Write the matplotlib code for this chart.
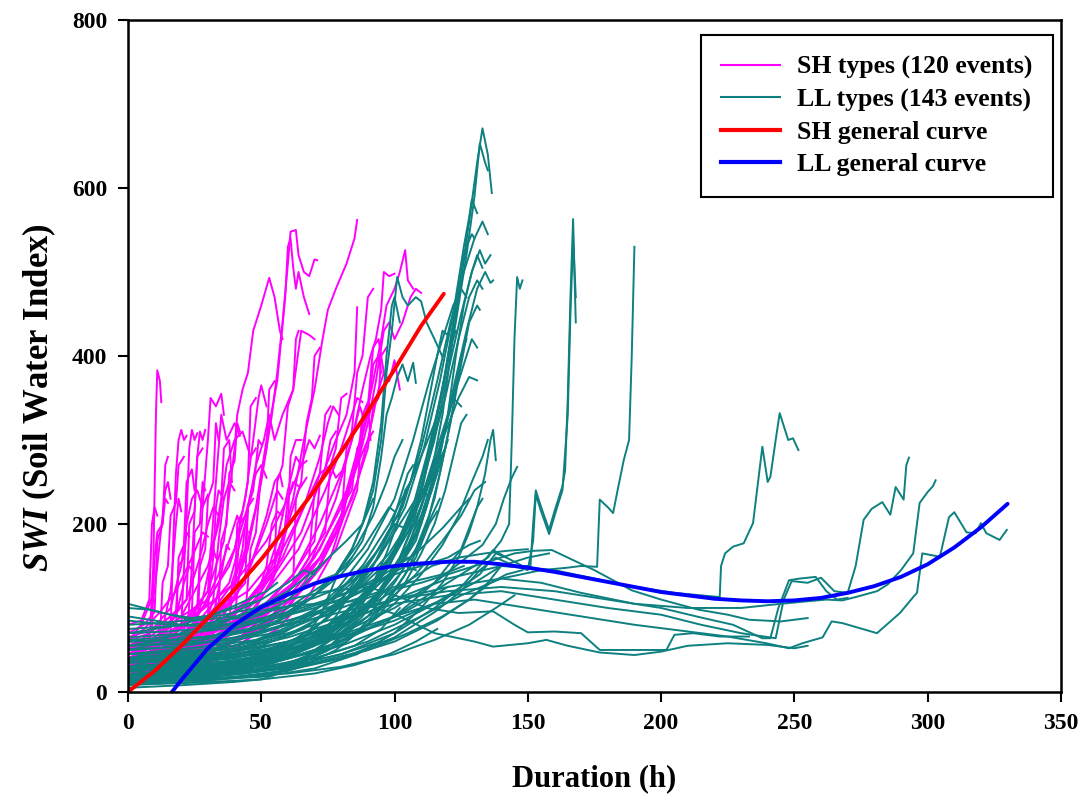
import matplotlib
matplotlib.use("Agg")
import matplotlib.pyplot as plt
from matplotlib.lines import Line2D

plt.rcParams['font.family'] = ['Liberation Serif', 'DejaVu Serif']
plt.rcParams['font.weight'] = 'bold'
plt.rcParams['mathtext.fontset'] = 'custom'
plt.rcParams['mathtext.it'] = 'Liberation Serif:bold:italic'
plt.rcParams['mathtext.rm'] = 'Liberation Serif:bold'

# SH type events: (duration h, SWI) vertices
sh_events = [
    [(0, 35), (4, 42), (8, 55), (9.5, 150), (10.5, 330), (11, 383), (12, 370), (12.5, 345)],
    [(0, 15), (6, 30), (12, 45), (16, 70), (17, 180), (18, 260), (19, 300), (20, 312), (21, 300), (22, 305)],
    [(0, 20), (8, 35), (14, 55), (20, 80), (22, 210), (23, 290), (24, 312), (25, 300), (26, 308)],
    [(0, 10), (10, 25), (18, 40), (22, 60), (24, 150), (26, 280), (27, 310), (28, 300), (29, 312)],
    [(0, 25), (10, 40), (20, 70), (26, 100), (28, 220), (30, 300), (31, 350), (33, 340), (35, 355), (36, 330)],
    [(0, 30), (12, 50), (22, 85), (30, 120), (33, 250), (35, 330), (37, 300), (40, 320), (42, 305)],
    [(0, 40), (10, 55), (20, 80), (30, 120), (36, 180), (40, 290), (41, 330), (43, 360), (45, 380),
     (47, 430), (50, 460), (53, 493), (55, 470), (57, 430), (58, 420)],
    [(0, 15), (15, 40), (30, 80), (40, 120), (45, 170), (50, 250), (54, 330), (56, 380), (58, 440),
     (60, 510), (61, 548), (63, 550), (64, 520), (66, 500), (68, 495), (70, 515), (71, 514)],
    [(0, 20), (15, 45), (30, 90), (42, 140), (48, 220), (52, 300), (56, 370), (59, 470), (60, 530),
     (61, 540), (62, 505), (63, 480), (64, 500), (66, 470), (68, 450)],
    [(0, 30), (14, 50), (28, 90), (38, 130), (44, 200), (48, 270), (51, 300), (53, 330), (55, 300),
     (58, 330), (62, 360), (65, 430), (68, 425), (70, 420)],
    [(0, 45), (10, 60), (20, 90), (30, 150), (34, 200), (37, 270), (40, 300), (43, 310), (46, 280), (48, 290)],
    [(0, 50), (8, 70), (16, 100), (20, 150), (22, 200), (24, 230), (26, 240), (28, 220), (30, 235)],
    [(0, 10), (10, 20), (20, 40), (28, 70), (32, 110), (34, 180), (36, 230), (38, 250), (40, 240)],
    [(0, 60), (5, 80), (10, 120), (12, 180), (14, 240), (15, 250), (16, 230)],
    [(0, 30), (6, 40), (12, 60), (16, 120), (18, 200), (19, 230), (20, 215)],
    [(0, 25), (12, 45), (24, 80), (34, 130), (40, 170), (44, 230), (47, 300), (49, 350), (50, 365), (52, 340)],
    [(0, 20), (15, 35), (30, 70), (45, 110), (55, 150), (62, 230), (66, 300), (70, 360), (73, 420),
     (75, 455), (78, 480), (82, 510), (85, 540), (86, 562)],
    [(0, 15), (14, 30), (28, 60), (42, 100), (55, 140), (65, 190), (72, 250), (78, 300), (82, 330),
     (85, 380), (86, 458)],
    [(0, 35), (12, 55), (25, 90), (40, 130), (52, 180), (60, 230), (65, 270), (68, 300), (70, 290), (72, 305)],
    [(0, 50), (10, 65), (20, 90), (30, 110), (38, 150), (44, 210), (48, 260), (50, 270), (52, 255)],
    [(0, 40), (15, 55), (30, 90), (45, 120), (58, 170), (66, 220), (72, 260), (76, 270), (78, 255), (80, 262)],
    [(0, 10), (20, 30), (40, 60), (55, 100), (68, 150), (78, 230), (84, 300), (88, 360), (91, 400),
     (93, 420), (95, 455), (96, 500), (98, 495), (100, 498)],
    [(0, 20), (20, 40), (40, 75), (60, 120), (72, 170), (82, 240), (88, 310), (92, 370), (95, 420),
     (97, 460), (100, 480), (102, 500), (104, 526), (105, 490), (107, 480)],
    [(0, 30), (25, 50), (45, 85), (60, 120), (72, 160), (80, 210), (86, 270), (90, 320), (93, 370),
     (96, 430), (98, 440), (100, 420), (103, 440), (106, 470), (108, 480), (110, 475)],
    [(0, 15), (18, 35), (36, 70), (54, 110), (70, 150), (80, 200), (86, 250), (90, 300), (94, 360),
     (96, 380), (98, 370), (100, 395), (102, 360)],
    [(0, 25), (15, 40), (30, 60), (40, 80), (50, 120), (56, 180), (60, 240), (63, 280), (65, 270), (67, 275)],
    [(0, 55), (8, 65), (16, 85), (22, 110), (27, 160), (30, 200), (32, 220), (34, 210)],
    [(0, 35), (10, 45), (20, 60), (25, 80), (28, 110), (30, 140), (32, 170), (33, 160)],
    [(0, 45), (6, 55), (12, 70), (18, 90), (21, 130), (23, 150), (24, 145)],
    [(0, 20), (10, 30), (20, 45), (30, 60), (36, 90), (40, 130), (43, 170), (44, 200), (45, 190)],
    [(0, 30), (14, 45), (28, 70), (38, 100), (46, 150), (52, 200), (56, 240), (58, 230)],
    [(0, 40), (10, 55), (20, 75), (28, 100), (34, 140), (38, 180), (41, 210), (42, 200)],
    [(0, 10), (12, 20), (24, 40), (36, 70), (48, 110), (58, 160), (66, 220), (72, 280), (75, 320),
     (77, 340), (79, 330)],
    [(0, 25), (12, 38), (24, 55), (36, 80), (46, 110), (54, 150), (60, 200), (64, 240), (67, 255)],
    [(0, 60), (6, 75), (12, 95), (18, 120), (24, 160), (28, 190), (30, 185)],
    [(0, 15), (16, 30), (32, 55), (48, 90), (62, 140), (72, 200), (80, 260), (84, 300), (87, 340), (88, 330)],
    [(0, 35), (20, 50), (38, 80), (52, 120), (64, 170), (74, 240), (80, 290), (84, 330), (86, 350), (88, 345)],
    [(0, 20), (10, 28), (20, 38), (28, 55), (32, 90), (35, 140), (37, 175), (38, 170)],
    [(0, 50), (15, 62), (30, 80), (40, 110), (47, 160), (52, 210), (55, 250), (57, 260), (58, 245)],
    [(0, 30), (20, 45), (40, 70), (58, 110), (70, 160), (80, 220), (86, 270), (90, 300), (92, 310)],
    [(0, 45), (6, 50), (12, 62), (13, 130), (15, 150), (16, 210), (18, 225), (19, 270), (21, 280)],
    [(0, 30), (8, 38), (15, 50), (18, 70), (19, 160), (21, 175), (22, 250), (24, 265), (25, 240)],
    [(0, 55), (5, 60), (9, 75), (10, 160), (11, 190), (13, 200), (14, 270), (15, 280)],
    [(0, 20), (10, 30), (20, 45), (26, 60), (27, 150), (29, 170), (30, 230), (32, 250), (33, 320), (34, 300)],
    [(0, 35), (12, 48), (22, 70), (30, 90), (31, 170), (33, 190), (35, 230), (36, 290), (38, 300), (39, 250)],
    [(0, 60), (8, 70), (16, 90), (22, 110), (23, 200), (25, 215), (26, 280), (28, 290)],
    [(0, 25), (14, 40), (26, 65), (34, 95), (35, 180), (37, 200), (38, 260), (40, 275), (41, 320), (42, 310)],
    [(0, 40), (16, 55), (30, 85), (40, 110), (41, 200), (43, 215), (45, 250), (46, 340), (48, 350)],
    [(0, 15), (16, 28), (32, 55), (44, 90), (46, 170), (48, 190), (50, 260), (52, 290), (53, 360), (55, 370)],
    [(0, 50), (12, 58), (24, 75), (36, 100), (44, 130), (45, 220), (47, 240), (49, 300), (50, 295)],
    [(0, 30), (20, 42), (36, 70), (48, 100), (55, 140), (56, 250), (58, 270), (60, 340), (62, 360),
     (63, 420), (64, 430)],
    [(0, 10), (20, 22), (40, 50), (54, 90), (62, 130), (63, 230), (65, 250), (67, 320), (69, 350),
     (70, 400), (72, 410)],
    [(0, 40), (18, 52), (34, 78), (46, 110), (56, 150), (60, 200), (61, 280), (63, 300), (65, 300)],
    [(0, 20), (22, 34), (42, 65), (58, 110), (68, 160), (70, 240), (72, 260), (74, 330), (76, 340)],
    [(0, 30), (24, 45), (46, 80), (62, 130), (74, 190), (76, 270), (78, 290), (80, 350), (82, 355)],
    [(0, 15), (22, 28), (44, 60), (60, 100), (72, 150), (80, 200), (82, 290), (84, 310), (86, 380),
     (88, 400), (90, 470), (92, 480)],
    [(0, 25), (25, 40), (48, 75), (65, 120), (78, 170), (86, 240), (88, 320), (90, 340), (92, 410),
     (94, 420), (96, 380)],
    [(0, 35), (24, 48), (46, 80), (62, 120), (75, 170), (84, 230), (90, 290), (92, 340), (94, 350),
     (95, 400), (97, 410)],
    [(0, 70), (6, 80), (10, 95), (11, 180), (13, 200), (14, 230), (15, 225)],
    [(0, 80), (5, 85), (8, 110), (9, 200), (10, 220), (11, 210)],
    [(0, 45), (10, 55), (18, 75), (24, 95), (25, 190), (27, 200), (28, 250), (29, 240)],
    [(0, 55), (12, 65), (22, 85), (30, 105), (32, 160), (33, 220), (34, 240), (36, 230)],
    [(0, 30), (16, 40), (30, 60), (40, 85), (42, 150), (44, 170), (45, 220), (47, 230)],
    [(0, 20), (14, 30), (28, 50), (38, 75), (39, 130), (41, 150), (42, 200), (44, 210)],
    [(0, 65), (10, 75), (18, 95), (19, 150), (21, 160), (22, 190), (23, 185)],
    [(0, 25), (20, 38), (40, 60), (55, 90), (66, 130), (74, 170), (80, 210), (84, 260), (86, 270),
     (88, 330), (90, 345), (91, 300)],
    [(0, 40), (18, 50), (36, 70), (50, 100), (62, 140), (70, 180), (72, 250), (74, 265), (76, 300), (78, 310)],
    [(0, 15), (20, 25), (40, 45), (56, 75), (68, 115), (76, 160), (80, 200), (82, 230), (84, 240),
     (86, 290), (88, 300)],
    [(0, 30), (22, 40), (42, 62), (58, 95), (70, 140), (78, 190), (82, 230), (86, 280), (90, 330),
     (92, 390), (94, 400), (95, 380)],
    [(0, 50), (16, 58), (32, 72), (46, 95), (54, 130), (58, 170), (60, 230), (62, 250), (64, 245)],
    [(0, 35), (14, 44), (28, 58), (40, 80), (48, 110), (52, 150), (54, 200), (56, 215), (58, 210)],
]

# LL type events
ll_events = [
    [(0, 20), (15, 25), (30, 30), (45, 35), (60, 45), (75, 70), (90, 120), (100, 170), (108, 230),
     (114, 300), (119, 380), (124, 470), (128, 560), (131, 630), (133, 671), (135, 640), (136.5, 594)],
    [(0, 15), (20, 20), (40, 28), (55, 35), (70, 55), (85, 90), (97, 150), (106, 210), (112, 280),
     (118, 360), (123, 440), (127, 520), (130, 590), (132, 653), (134, 630), (135, 621)],
    [(0, 30), (18, 35), (36, 40), (54, 50), (68, 70), (82, 110), (94, 160), (104, 220), (111, 290),
     (117, 370), (122, 450), (126, 530), (128, 565), (129, 586), (131, 570)],
    [(0, 25), (20, 30), (40, 35), (58, 45), (72, 65), (86, 100), (98, 150), (108, 220), (115, 300),
     (120, 380), (125, 450), (129, 500), (132, 526), (134, 510), (136, 520)],
    [(0, 10), (22, 15), (44, 22), (60, 30), (74, 50), (88, 90), (100, 140), (110, 200), (117, 280),
     (122, 360), (127, 430), (131, 480), (134, 500), (136, 487), (137, 490)],
    [(0, 35), (16, 40), (32, 45), (50, 55), (66, 75), (80, 110), (92, 160), (103, 220), (110, 290),
     (116, 370), (121, 440), (126, 500), (130, 540), (133, 560), (135, 545)],
    [(0, 20), (20, 22), (40, 28), (58, 38), (72, 60), (86, 100), (98, 150), (107, 210), (113, 280),
     (119, 350), (124, 420), (128, 470), (131, 490), (133, 480)],
    [(0, 40), (15, 45), (30, 50), (48, 60), (64, 80), (78, 120), (90, 170), (100, 230), (107, 300),
     (113, 370), (118, 420), (122, 460), (125, 480), (127, 470)],
    [(0, 15), (25, 20), (50, 28), (66, 40), (80, 70), (92, 110), (102, 160), (110, 220), (116, 280),
     (121, 340), (126, 390), (129, 420), (131, 410)],
    [(0, 25), (20, 30), (40, 35), (60, 48), (76, 75), (90, 120), (101, 170), (110, 230), (118, 300),
     (124, 350), (128, 375), (131, 371)],
    [(0, 30), (18, 32), (36, 36), (54, 44), (70, 62), (84, 95), (96, 140), (105, 190), (112, 250),
     (118, 310), (122, 350), (125, 340)],
    [(0, 20), (20, 25), (40, 30), (58, 40), (74, 60), (88, 95), (99, 140), (108, 190), (114, 240),
     (118, 280), (120, 300)],
    [(0, 45), (16, 50), (32, 55), (48, 62), (62, 80), (76, 110), (88, 150), (98, 200), (106, 250),
     (112, 296), (115, 320)],
    [(0, 35), (25, 38), (50, 45), (66, 60), (80, 90), (92, 130), (102, 180), (110, 230), (116, 270), (119, 290)],
    [(0, 15), (20, 18), (40, 24), (60, 34), (76, 55), (90, 90), (100, 130), (108, 170), (114, 210), (117, 230)],
    [(0, 10), (25, 14), (50, 20), (65, 30), (78, 50), (90, 80), (100, 120), (108, 160), (113, 200), (116, 215)],
    [(0, 30), (20, 34), (40, 40), (60, 55), (75, 80), (88, 110), (98, 140), (104, 160), (108, 200),
     (112, 240), (115, 280), (118, 330), (121, 400), (124, 470), (126, 520), (128, 540)],
    [(0, 20), (20, 24), (40, 30), (60, 42), (78, 70), (92, 110), (102, 150), (108, 180), (112, 220),
     (116, 270), (120, 330), (123, 400), (126, 460), (129, 500), (131, 520), (133, 505)],
    [(0, 40), (20, 44), (40, 52), (60, 68), (76, 95), (88, 130), (98, 165), (105, 200), (110, 240),
     (114, 300), (118, 360), (121, 420), (124, 480), (127, 530), (129, 545), (130, 540)],
    [(0, 25), (22, 28), (44, 34), (62, 46), (78, 70), (92, 105), (102, 140), (108, 170), (113, 210),
     (117, 260), (121, 320), (125, 390), (128, 440), (131, 460), (132, 455)],
    [(0, 35), (20, 38), (40, 44), (60, 56), (76, 80), (88, 110), (98, 140), (105, 175), (110, 210),
     (114, 250), (118, 300), (122, 350), (125, 400), (127, 420)],
    [(0, 15), (24, 18), (48, 24), (66, 36), (82, 60), (95, 95), (104, 130), (110, 165), (115, 200),
     (119, 240), (122, 280), (125, 320), (127, 330)],
    [(0, 45), (20, 48), (40, 55), (58, 70), (72, 95), (84, 130), (94, 170), (101, 210), (106, 250),
     (110, 300), (113, 350), (116, 400), (118, 430), (120, 425)],
    [(0, 20), (18, 22), (36, 26), (54, 34), (70, 50), (84, 80), (95, 120), (102, 160), (107, 200),
     (111, 250), (115, 310), (118, 360), (121, 410), (123, 430)],
    [(0, 55), (14, 58), (28, 62), (42, 70), (56, 85), (68, 110), (78, 140), (86, 175), (92, 210),
     (97, 250), (100, 280), (103, 300)],
    [(0, 30), (16, 33), (32, 38), (48, 46), (62, 62), (74, 85), (84, 115), (92, 150), (98, 190),
     (102, 230), (105, 260), (107, 270)],
    [(0, 60), (15, 62), (30, 66), (45, 75), (58, 92), (70, 115), (80, 140), (88, 170), (94, 200),
     (98, 220), (100, 215)],
    [(0, 18), (20, 20), (40, 24), (58, 32), (74, 48), (86, 72), (96, 105), (104, 140), (110, 180),
     (115, 230), (119, 290), (122, 340), (124, 380)],
    [(0, 25), (20, 27), (40, 31), (58, 38), (74, 52), (88, 75), (100, 105), (110, 140), (118, 175),
     (124, 210), (129, 250), (133, 280), (135, 300)],
    [(0, 38), (20, 40), (40, 45), (58, 54), (72, 68), (84, 90), (94, 118), (102, 150), (108, 185),
     (112, 220), (116, 262), (119, 290)],
    [(0, 50), (15, 60), (30, 75), (45, 95), (60, 120), (72, 150), (82, 180), (88, 200), (92, 240),
     (95, 300), (97, 380), (99, 430), (101, 494), (103, 470), (105, 460), (108, 470), (110, 465),
     (112, 440), (115, 420), (118, 399)],
    [(0, 40), (15, 50), (30, 65), (45, 80), (60, 100), (72, 125), (82, 150), (88, 180), (92, 220),
     (95, 280), (97, 330), (99, 350), (101, 375), (103, 390), (105, 370), (107, 392), (108, 368)],
    [(0, 30), (12, 38), (24, 45), (36, 55), (48, 70), (60, 90), (70, 115), (78, 140), (84, 170),
     (88, 200), (92, 250), (95, 320), (97, 400), (99, 460), (100, 470), (102, 440)],
    [(0, 20), (20, 25), (40, 30), (60, 40), (80, 60), (100, 90), (115, 120), (125, 140), (135, 160),
     (140, 180), (143, 200), (144, 300), (145, 420), (146, 494), (147, 480), (148, 490)],
    [(0, 25), (20, 30), (40, 35), (60, 45), (80, 70), (100, 100), (115, 130), (125, 155), (133, 175),
     (138, 200), (141, 230), (144, 255), (146, 268)],
    [(0, 15), (20, 18), (40, 22), (60, 30), (80, 45), (100, 70), (115, 100), (125, 125), (132, 150),
     (137, 169), (142, 160), (148, 150), (151, 150), (152, 200), (153, 240), (155, 220), (158, 193),
     (160, 215), (163, 245), (164, 264), (165, 350), (166, 470), (167, 563), (167.5, 500), (168, 440)],
    [(0, 10), (20, 14), (40, 18), (60, 26), (80, 40), (100, 65), (115, 95), (125, 120), (132, 145),
     (138, 160), (145, 150), (150, 145), (152, 180), (153, 235), (155, 215), (158, 188), (161, 220),
     (163, 240), (165, 330), (166, 450), (167, 540), (168, 470)],
    [(0, 20), (25, 22), (50, 28), (70, 40), (90, 60), (110, 90), (125, 115), (140, 135), (155, 145),
     (165, 148), (170, 150), (176, 149), (177, 229), (180, 220), (182, 213), (184, 245), (186, 276),
     (188, 300), (189, 400), (190, 530)],
    [(0, 90), (10, 85), (20, 80), (30, 78), (45, 95), (60, 110), (75, 120), (90, 125), (102, 113),
     (112, 100), (124, 94), (137, 96), (145, 80), (150, 71), (160, 72), (170, 70), (177, 50), (190, 50),
     (202, 50), (205, 68), (212, 70), (222, 66), (233, 66)],
    [(0, 105), (12, 95), (25, 85), (40, 90), (55, 100), (70, 105), (85, 108), (100, 93), (115, 70),
     (130, 60), (137, 54), (150, 58), (157, 62), (165, 55), (177, 47), (190, 44), (200, 48), (210, 55),
     (225, 58), (240, 56), (250, 52), (255, 55)],
    [(0, 60), (20, 62), (40, 70), (60, 85), (80, 100), (95, 118), (110, 130), (125, 145), (135, 155),
     (145, 165), (152, 168), (159, 169), (165, 160), (175, 145), (189, 121), (200, 110), (214, 98),
     (225, 92), (233, 86), (245, 84), (255, 88)],
    [(0, 30), (20, 35), (40, 45), (60, 60), (80, 80), (100, 110), (120, 135), (140, 150), (160, 145),
     (175, 135), (190, 125), (205, 118), (215, 115), (222, 113), (222.5, 150), (224, 165), (227, 173),
     (231, 177), (234.5, 201), (236, 240), (238, 292), (240, 250), (241, 256), (243, 300), (244.5, 332),
     (247.7, 300), (249.5, 302), (251.5, 288)],
    [(0, 35), (20, 40), (40, 50), (60, 65), (80, 85), (100, 105), (120, 115), (140, 120), (160, 110),
     (180, 100), (200, 92), (215, 80), (230, 70), (243, 64), (246, 110), (249, 132), (255, 130),
     (260, 136), (265, 120), (270, 118), (273, 150), (276, 205), (279, 218), (283, 226), (286, 211),
     (288, 244), (291, 229), (292, 270), (293, 279)],
    [(0, 40), (20, 45), (40, 55), (60, 70), (80, 90), (100, 110), (120, 125), (140, 135), (155, 130),
     (170, 118), (190, 105), (210, 100), (230, 100), (245, 105), (255, 108), (262, 110), (268, 109),
     (273, 113), (281, 120), (285, 128), (290, 145), (294.6, 165), (296, 200), (297, 225), (300, 238),
     (302, 245), (303, 252)],
    [(0, 25), (20, 30), (40, 38), (60, 50), (80, 68), (100, 90), (115, 105), (130, 110), (150, 100),
     (170, 90), (190, 80), (210, 72), (225, 66), (239.5, 58), (248, 52), (253, 58), (260.6, 65),
     (264, 84), (268, 82), (281, 70), (289.6, 94), (294.6, 113), (296, 118), (298, 165), (304.6, 161),
     (308, 208), (310, 214), (314.6, 190), (318, 189), (320, 201), (322, 189), (327, 181), (329.7, 193)],
    [(0, 50), (20, 55), (40, 65), (60, 80), (80, 95), (100, 110), (120, 120), (140, 125), (160, 120),
     (180, 110), (200, 100), (214.5, 89), (227, 80), (238, 64), (241, 64), (244, 100), (248, 133),
     (252, 135), (258, 137), (262, 120), (266, 110), (270, 112)],
    [(0, 5), (20, 8), (40, 12), (50, 15), (55, 20)],
    [(0, 8), (25, 12), (45, 18), (60, 25), (70, 35)],
    [(0, 12), (20, 15), (40, 22), (60, 30), (80, 45), (95, 60)],
    [(0, 20), (15, 25), (30, 30), (45, 40), (60, 55), (72, 70), (80, 90), (86, 110), (90, 120)],
    [(0, 55), (10, 60), (20, 70), (30, 80), (40, 95), (50, 110), (60, 130), (66, 145), (70, 140)],
    [(0, 70), (10, 75), (20, 80), (30, 90), (38, 100), (45, 110), (52, 120), (56, 130)],
    [(0, 100), (8, 98), (16, 92), (24, 88), (32, 92), (40, 100), (48, 108)],
    [(0, 80), (12, 82), (24, 86), (36, 92), (48, 100), (60, 115), (70, 130), (78, 140), (84, 160)],
    [(0, 45), (15, 48), (30, 55), (45, 65), (60, 80), (75, 100), (88, 120), (98, 140), (105, 160), (110, 150)],
    [(0, 18), (25, 20), (50, 25), (70, 35), (90, 50), (105, 70), (118, 90), (128, 110), (135, 130), (140, 150)],
    [(0, 28), (20, 30), (40, 34), (60, 40), (80, 55), (100, 80), (115, 105), (125, 125), (132, 140),
     (138, 165), (142, 160)],
    [(0, 60), (15, 62), (30, 66), (45, 72), (60, 85), (75, 100), (90, 115), (105, 130), (118, 140), (126, 150)],
    [(0, 35), (20, 38), (40, 42), (60, 50), (80, 65), (100, 85), (118, 110), (130, 130), (140, 150),
     (150, 160), (158, 165)],
    [(0, 14), (30, 16), (60, 22), (80, 30), (100, 45), (115, 62), (128, 80), (138, 100), (145, 115)],
    [(0, 22), (18, 24), (36, 28), (54, 32), (70, 40), (85, 55), (95, 75), (102, 100)],
    [(0, 65), (14, 68), (28, 72), (42, 78), (56, 88), (70, 100), (84, 115), (96, 135), (104, 150), (108, 145)],
    [(0, 40), (20, 42), (40, 46), (60, 52), (76, 62), (90, 76), (102, 92), (112, 110), (120, 125)],
    [(0, 9), (25, 11), (50, 15), (70, 22), (85, 32), (98, 45), (108, 60), (116, 75)],
    [(0, 75), (15, 78), (30, 82), (45, 90), (58, 100), (70, 112), (80, 125), (88, 140)],
    [(0, 50), (12, 52), (24, 56), (36, 62), (48, 70), (60, 82), (70, 98), (78, 115), (84, 135), (88, 150)],
    [(0, 25), (20, 28), (40, 32), (60, 40), (80, 60), (100, 90), (115, 130), (125, 170), (131, 220),
     (134, 260), (136, 300), (137, 312), (138, 276)],
    [(0, 30), (20, 32), (40, 36), (55, 45), (65, 60), (72, 90), (76, 120), (80, 150), (84, 170),
     (88, 200), (92, 230)],
    [(0, 20), (25, 22), (45, 28), (60, 40), (70, 60), (78, 90), (84, 120), (90, 150), (96, 180),
     (100, 200), (104, 195)],
    [(0, 45), (20, 47), (40, 52), (56, 62), (68, 80), (78, 105), (86, 130), (94, 160), (100, 190),
     (106, 220), (110, 240), (112, 235)],
    [(0, 12), (25, 14), (50, 18), (70, 28), (86, 45), (100, 70), (110, 100), (118, 130), (124, 160),
     (128, 190), (131, 220), (133, 230)],
    [(0, 35), (20, 37), (40, 42), (60, 50), (80, 70), (95, 100), (108, 140), (118, 180), (125, 210),
     (130, 240), (134, 250)],
    [(0, 70), (15, 72), (30, 76), (45, 82), (60, 92), (72, 105), (84, 120), (96, 140), (108, 165),
     (118, 195), (125, 220), (128, 230)],
    [(0, 85), (15, 80), (30, 78), (45, 84), (60, 95), (75, 110), (90, 128), (100, 140), (110, 150),
     (120, 160), (128, 175), (132, 180)],
    [(0, 40), (20, 43), (40, 48), (60, 60), (78, 80), (92, 105), (104, 130), (114, 150), (124, 160),
     (134, 165), (142, 168), (150, 170)],
    [(0, 15), (20, 17), (40, 21), (60, 28), (80, 40), (100, 60), (116, 85), (128, 110), (136, 130),
     (142, 140), (148, 145)],
    [(0, 55), (20, 57), (40, 62), (58, 72), (72, 90), (84, 115), (94, 145), (102, 175), (108, 205),
     (112, 240), (114, 255)],
    [(0, 25), (20, 27), (40, 32), (56, 40), (68, 55), (78, 75), (86, 100), (92, 130), (97, 165),
     (101, 200), (104, 240), (106, 250)],
    [(0, 62), (10, 64), (20, 68), (30, 74), (40, 82), (50, 92), (58, 105), (64, 120), (68, 135), (72, 150)],
]

# general curves
sh_curve_h = [0, 10, 20, 30, 40, 50, 60, 70, 80, 90, 100, 110, 118.5]
sh_curve_swi = [0, 25, 55, 88, 122, 158, 198, 240, 286, 334, 384, 436, 474]

ll_curve_h = [16.5, 20, 30, 40, 50, 60, 70, 80, 90, 100, 110, 120, 130, 140, 150, 160, 170,
              180, 190, 200, 210, 220, 230, 240, 250, 260, 270, 280, 290, 300, 310, 320, 330]
ll_curve_swi = [0, 14, 52, 80, 101, 116, 129, 138, 145, 150, 153, 155, 155, 152, 148, 143, 137,
                131, 125, 119, 115, 111, 109, 108, 109, 112, 118, 126, 137, 152, 172, 196, 224]

pink = '#ff00ff'
teal = '#0e8080'

fig = plt.figure(figsize=(10.88, 8.05), dpi=100)
ax = fig.add_axes([0.1176, 0.1404, 0.8575, 0.8348])

for ev in sh_events:
    ax.plot([p[0] for p in ev], [p[1] for p in ev], color=pink, lw=1.4)
for ev in ll_events:
    ax.plot([p[0] for p in ev], [p[1] for p in ev], color=teal, lw=1.4)

ax.plot(sh_curve_h, sh_curve_swi, color='#ff0000', lw=2.8, solid_capstyle='round')
ax.plot(ll_curve_h, ll_curve_swi, color='#0000ff', lw=2.8, solid_capstyle='round')

ax.set_xlim(0, 350)
ax.set_ylim(0, 800)
ax.set_xticks(range(0, 351, 50))
ax.set_yticks(range(0, 801, 200))
ax.tick_params(direction='out', length=7, width=1.5, labelsize=17, pad=8)
for lbl in ax.get_xticklabels() + ax.get_yticklabels():
    lbl.set_fontweight('bold')
for s in ax.spines.values():
    s.set_linewidth(1.8)

ax.set_xlabel('Duration (h)', fontsize=22, fontweight='bold', labelpad=22)
ax.set_ylabel(r'$SWI$ (Soil Water Index)', fontsize=25, fontweight='bold')
ax.yaxis.set_label_coords(-0.075, 0.4375)

handles = [
    Line2D([], [], color=pink, lw=1.5),
    Line2D([], [], color=teal, lw=1.5),
    Line2D([], [], color='#ff0000', lw=3),
    Line2D([], [], color='#0000ff', lw=3),
]
labels = ['SH types (120 events)', 'LL types (143 events)', 'SH general curve', 'LL general curve']
leg = ax.legend(handles, labels, loc='upper right', bbox_to_anchor=(0.9914, 0.9777),
                borderaxespad=0,
                prop={'family': 'Liberation Serif', 'weight': 'bold', 'size': 18.5},
                handlelength=2.3, labelspacing=0.36, borderpad=0.8, handletextpad=0.65,
                fancybox=False, framealpha=1, edgecolor='black')
leg.get_frame().set_linewidth(1.5)

fig.savefig('out.png', dpi=100)
